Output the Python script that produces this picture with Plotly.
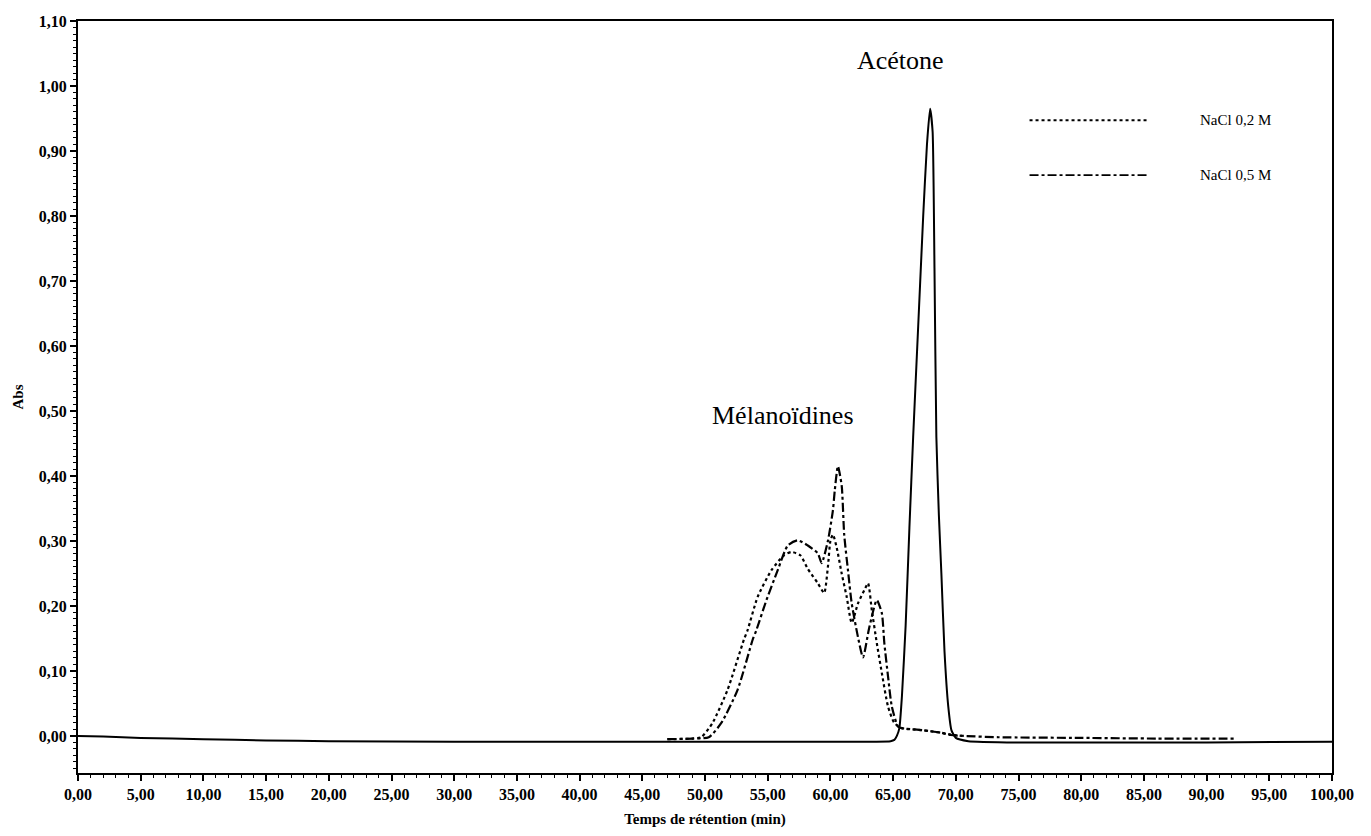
import plotly.graph_objects as go

# ---- data ----
# solid trace (Acétone peak, no legend entry)
solid_t = [0.0, 2.0, 5.0, 10.0, 15.0, 20.0, 30.0, 40.0, 50.0, 60.0, 64.8, 65.1, 65.3, 65.5, 65.7,
           66.0, 66.3, 66.6, 67.0, 67.4, 67.7, 67.95, 68.15, 68.3, 68.45, 68.65, 68.85, 69.1,
           69.4, 69.65, 70.0, 71.0, 75.0, 80.0, 90.0, 100.0]
solid_abs = [0.0, -0.001, -0.003, -0.005, -0.007, -0.008, -0.009, -0.009, -0.009, -0.009, -0.008,
             -0.006, 0.0, 0.012, 0.06, 0.17, 0.32, 0.46, 0.63, 0.80, 0.91, 0.965, 0.93, 0.72,
             0.46, 0.34, 0.25, 0.13, 0.045, 0.009, -0.003, -0.008, -0.01, -0.01, -0.01, -0.009]

# NaCl 0,2 M (dotted)
nacl02_t = [47.0, 49.0, 49.7, 50.6, 51.8, 53.1, 53.4, 54.2, 55.3, 56.3, 56.9, 57.6, 58.2, 59.0,
            59.5, 59.8, 60.0, 60.2, 60.5, 60.9, 61.3, 61.7, 62.2, 62.7, 63.0, 63.3, 63.7, 64.1,
            64.6, 65.1, 65.7, 67.3, 68.8, 69.6, 70.5]
nacl02_abs = [-0.005, -0.004, -0.002, 0.02, 0.071, 0.148, 0.163, 0.214, 0.255, 0.278, 0.283,
              0.278, 0.257, 0.235, 0.22, 0.26, 0.30, 0.31, 0.29, 0.25, 0.214, 0.174, 0.204,
              0.224, 0.235, 0.194, 0.143, 0.097, 0.045, 0.02, 0.012, 0.009, 0.005, 0.002, 0.0]

# NaCl 0,5 M (dash-dot)
nacl05_t = [47.0, 49.0, 50.3, 51.3, 52.6, 53.8, 54.1, 54.9, 55.8, 56.6, 57.4, 58.2, 59.0, 59.3,
            59.8, 60.2, 60.35, 60.6, 60.9, 61.1, 61.4, 61.7, 62.2, 62.6, 63.1, 63.7, 64.1, 64.3,
            64.6, 64.9, 65.4, 65.7, 67.3, 68.8, 69.6, 70.7, 73.4, 80.0, 86.0, 92.2]
nacl05_abs = [-0.005, -0.004, -0.002, 0.02, 0.071, 0.148, 0.163, 0.209, 0.255, 0.293, 0.301,
              0.293, 0.281, 0.266, 0.30, 0.347, 0.378, 0.415, 0.385, 0.31, 0.255, 0.204, 0.152,
              0.121, 0.167, 0.209, 0.189, 0.143, 0.091, 0.045, 0.014, 0.012, 0.009, 0.005,
              0.0015, 0.0, -0.002, -0.003, -0.004, -0.004]

x_ticks = [i * 5 for i in range(21)]
y_ticks = [round(i * 0.1, 2) for i in range(12)]

legend_names = ["NaCl 0,2 M", "NaCl 0,5 M"]

SERIF = "Liberation Serif, Times New Roman, serif"

fig = go.Figure()
fig.add_trace(go.Scatter(x=solid_t, y=solid_abs, mode="lines", showlegend=False,
                         line=dict(color="black", width=2, shape="spline", smoothing=0.5)))
fig.add_trace(go.Scatter(x=nacl02_t, y=nacl02_abs, mode="lines", name=legend_names[0],
                         showlegend=False,
                         line=dict(color="black", width=2.2, dash="dot", shape="spline",
                                   smoothing=0.6)))
fig.add_trace(go.Scatter(x=nacl05_t, y=nacl05_abs, mode="lines", name=legend_names[1],
                         showlegend=False,
                         line=dict(color="black", width=2.2, dash="dashdot", shape="spline",
                                   smoothing=0.6)))

# manual legend (long line samples as in the original)
leg_y = [0.868, 0.795]
leg_dash = ["dot", "dashdot"]
for name, yy, dsh in zip(legend_names, leg_y, leg_dash):
    fig.add_shape(type="line", xref="paper", yref="paper", x0=0.7588, x1=0.853, y0=yy, y1=yy,
                  line=dict(color="black", width=1.8, dash=dsh))
    fig.add_annotation(xref="paper", yref="paper", x=0.893, y=yy, text=name, showarrow=False,
                       xanchor="left", yanchor="middle",
                       font=dict(family=SERIF, size=15, color="black"))

fig.add_annotation(x=65.6, y=1.04, text="Acétone", showarrow=False,
                   font=dict(family=SERIF, size=26, color="black"))
fig.add_annotation(x=56.2, y=0.493, text="Mélanoïdines", showarrow=False,
                   font=dict(family=SERIF, size=26, color="black"))

# page body has an 8px margin: figure sized to fit the 1371x836 window
fig.update_layout(
    width=1355, height=820,
    margin=dict(l=70, r=31, t=13, b=55, autoexpand=False),
    paper_bgcolor="white", plot_bgcolor="white",
    separators=",.",
    showlegend=False,
    font=dict(family=SERIF, color="black"),
)
fig.update_xaxes(
    range=[0, 100], tickvals=x_ticks, tickformat=".2f", automargin=False,
    showgrid=False, zeroline=False,
    showline=True, linecolor="black", linewidth=2, mirror=True,
    ticks="outside", ticklen=6, tickwidth=1.5, tickcolor="black",
    minor=dict(tickmode="linear", tick0=0, dtick=1, ticks="outside", ticklen=3,
               tickcolor="black", tickwidth=1),
    tickfont=dict(family=SERIF, size=16, color="black", weight="bold"),
    title=dict(text="Temps de rétention (min)", standoff=12,
               font=dict(family=SERIF, size=15, color="black", weight="bold")),
)
fig.update_yaxes(
    range=[-0.057, 1.10], tickvals=y_ticks, tickformat=".2f", automargin=False,
    showgrid=False, zeroline=False,
    showline=True, linecolor="black", linewidth=2, mirror=True,
    ticks="outside", ticklen=6, tickwidth=1.5, tickcolor="black",
    minor=dict(tickmode="linear", tick0=0, dtick=0.01, ticks="outside", ticklen=3,
               tickcolor="black", tickwidth=1),
    tickfont=dict(family=SERIF, size=16, color="black", weight="bold"),
    title=dict(text="Abs", standoff=12,
               font=dict(family=SERIF, size=15, color="black", weight="bold")),
)

fig.write_html("out.html")
